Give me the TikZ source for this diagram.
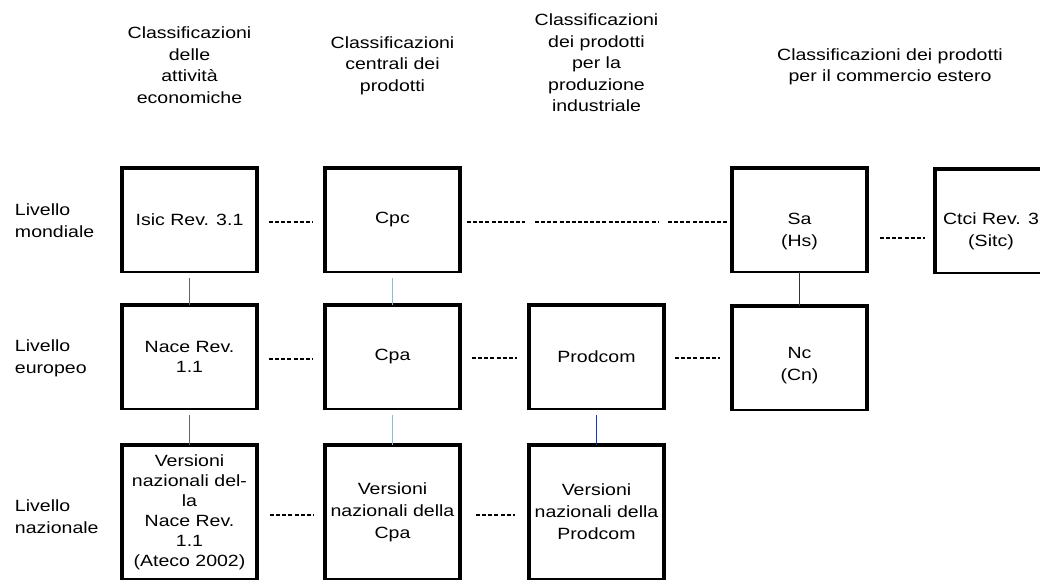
\documentclass[tikz,border=0pt]{standalone}
\usepackage{fontspec}
\setmainfont[FakeStretch=1.2]{Liberation Sans}
\usetikzlibrary{calc}
\definecolor{linkbrown}{HTML}{8E5A30}
\definecolor{linklight}{HTML}{9DB6C8}
\definecolor{linkblue}{HTML}{26367A}
\definecolor{linkdark}{HTML}{3E3028}
\begin{document}
\begin{tikzpicture}[x=0.75pt,y=-0.75pt,
  every node/.style={inner sep=0pt, outer sep=0pt, text=black},
  cbox/.style={draw, line width=1.5pt, minimum width=101.2pt, minimum height=78pt,
    align=center, font=\fontsize{12.2}{15}\selectfont},
  tallbox/.style={cbox, minimum height=100.5pt},
  frame/.style={line width=3pt, line join=miter},
  boxtxt/.style={align=center, font=\fontsize{12.2}{16.5}\selectfont},
  hdr/.style={align=center, font=\fontsize{12.2}{16.1}\selectfont},
  lvl/.style={anchor=west, align=left, font=\fontsize{12.2}{16.5}\selectfont},
  dlink/.style={line width=1.6pt, dash pattern=on 3pt off 1.6pt},
  vlink/.style={line width=1pt},
]
\path[use as bounding box] (0,0) rectangle (1040,583);
\clip (0,0) rectangle (1040,583);

% column headers
\node[hdr] (h1) at (189.5,65) {Classificazioni\\delle\\attività\\economiche};
\node[hdr] (h2) at (392.5,65.5) {Classificazioni\\centrali dei\\prodotti};
\node[hdr] (h3) at (596.5,63) {Classificazioni\\dei prodotti\\per la\\produzione\\industriale};
\node[hdr] (h4) at (890,67) {Classificazioni dei prodotti\\per il commercio estero};

% row labels
\node[lvl] (l1) at (15,221) {Livello\\mondiale};
\node[lvl] (l2) at (15,358) {Livello\\europeo};
\node[lvl] (l3) at (15,517) {Livello\\nazionale};

% top row
\node[cbox] (isic) at (189.5,220) {Isic Rev. 3.1};
\node[cbox] (cpc) at (392.5,220) {Cpc};
\node[cbox] (sa) at (799.5,220) {};
\node[boxtxt] (satxt) at (799.5,231) {Sa\\(Hs)};
\node[cbox, minimum width=84pt] (ctci) at (991,221) {};
\node[boxtxt] (ctcitxt) at (991,231) {Ctci Rev. 3\\(Sitc)};

% middle row
\node[cbox] (nace) at (189.5,357) {Nace Rev.\\1.1};
\node[cbox] (cpa) at (392.5,357) {Cpa};
\node[cbox] (prodcom) at (596.5,357) {Prodcom};
\node[cbox] (nc) at (799.5,358) {};
\node[boxtxt] (nctxt) at (799.5,366) {Nc\\(Cn)};

% bottom row
\node[tallbox] (vnace) at (189.5,512) {\raisebox{4pt}{\begin{tabular}{@{}c@{}}Versioni\\nazionali del-\\la\\Nace Rev.\\1.1\\(Ateco 2002)\end{tabular}}};
\node[tallbox, font=\fontsize{12.2}{16.5}\selectfont] (vcpa) at (392.5,512) {Versioni\\nazionali della\\Cpa};
\node[tallbox, font=\fontsize{12.2}{16.5}\selectfont] (vprod) at (596.5,512) {Versioni\\nazionali della\\Prodcom};

% heavy left, top and right sides of every box
\foreach \b in {isic,cpc,sa,ctci,nace,cpa,prodcom,nc,vnace,vcpa,vprod}
  \draw[frame] ([yshift=-0.75pt]\b.south west) -- (\b.north west) -- (\b.north east) -- ([yshift=-0.75pt]\b.south east);

% horizontal dashed links, top row
\draw[dlink] ($(isic.east)+(12,2)$) -- ($(cpc.west)+(-12,2)$);
\draw[dlink] ($(cpc.east)+(7,2)$) -- ($(cpc.east)+(65,2)$);
\draw[dlink] ($(cpc.east)+(75,2)$) -- ($(cpc.east)+(198,2)$);
\draw[dlink] ($(cpc.east)+(208,2)$) -- ($(sa.west)+(-5,2)$);
\draw[dlink] ($(sa.east)+(13,18)$) -- ($(ctci.west)+(-10,17)$);

% middle row
\draw[dlink] ($(nace.east)+(12,2)$) -- ($(cpa.west)+(-12,2)$);
\draw[dlink] ($(cpa.east)+(12,1)$) -- ($(prodcom.west)+(-12,1)$);
\draw[dlink] ($(prodcom.east)+(11,1)$) -- ($(nc.west)+(-12,0)$);

% bottom row
\draw[dlink] ($(vnace.east)+(13,3)$) -- ($(vcpa.west)+(-12,3)$);
\draw[dlink] ($(vcpa.east)+(16,3)$) -- ($(vprod.west)+(-14,3)$);

% vertical links
\draw[vlink, linkbrown] ($(isic.south)+(0,6)$) -- (nace.north);
\draw[vlink, linkbrown] ($(nace.south)+(0,6)$) -- (vnace.north);
\draw[vlink, linklight] ($(cpc.south)+(0,6)$) -- (cpa.north);
\draw[vlink, linklight] ($(cpa.south)+(0,6)$) -- (vcpa.north);
\draw[vlink, linkblue] ($(prodcom.south)+(0,6)$) -- (vprod.north);
\draw[vlink, linkdark] (sa.south) -- (nc.north);
\end{tikzpicture}
\end{document}
